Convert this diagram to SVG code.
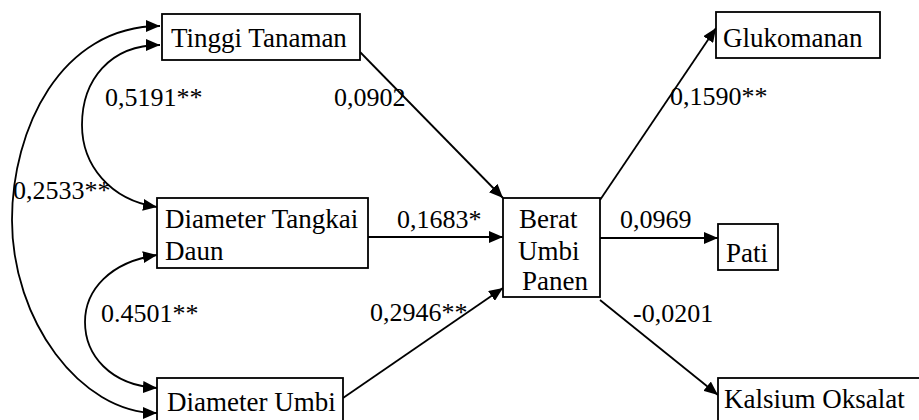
<svg xmlns="http://www.w3.org/2000/svg" width="919" height="420" viewBox="0 0 919 420">
<style>
.box{fill:#fff;stroke:#000;stroke-width:1.8}
.t{font-family:"Liberation Serif",serif;font-size:26px;fill:#000}
.n{font-family:"Liberation Serif",serif;font-size:27px;fill:#000}
.c{fill:none;stroke:#000;stroke-width:1.8}
</style>
<defs>
<marker id="ah" viewBox="0 0 14 12" refX="14" refY="6" markerWidth="14" markerHeight="12" markerUnits="userSpaceOnUse" orient="auto-start-reverse"><path d="M0,0 L14,6 L0,12 z" fill="#000"/></marker>
</defs>
<rect width="919" height="420" fill="#fff"/>
<g id="connectors">
<path class="c" d="M160,26 C60,26 12,130 12,220 C12,320 80,413 157,413" marker-start="url(#ah)" marker-end="url(#ah)"/>
<path class="c" d="M160,45 C110,45 82,80 82,125 C82,165 110,200 157,207" marker-start="url(#ah)" marker-end="url(#ah)"/>
<path class="c" d="M157,255 C110,262 85,290 85,322 C85,355 110,385 157,388" marker-start="url(#ah)" marker-end="url(#ah)"/>
<line class="c" x1="360" y1="52" x2="503" y2="198" marker-end="url(#ah)"/>
<line class="c" x1="368" y1="237" x2="503" y2="237" marker-end="url(#ah)"/>
<line class="c" x1="343" y1="398" x2="503" y2="288" marker-end="url(#ah)"/>
<line class="c" x1="600" y1="200" x2="716" y2="28" marker-end="url(#ah)"/>
<line class="c" x1="600" y1="238" x2="718" y2="238" marker-end="url(#ah)"/>
<line class="c" x1="600" y1="300" x2="718" y2="395" marker-end="url(#ah)"/>
</g>
<g id="labels">
<text class="t" x="105" y="106">0,5191**</text>
<text class="t" x="334" y="106">0,0902</text>
<text class="t" x="13" y="199">0,2533**</text>
<text class="t" x="397" y="228">0,1683*</text>
<text class="t" x="101" y="322">0.4501**</text>
<text class="t" x="370" y="321">0,2946**</text>
<text class="t" x="670" y="105">0,1590**</text>
<text class="t" x="620" y="228">0,0969</text>
<text class="t" x="633" y="322">-0,0201</text>
</g>
<g id="tinggi"><rect class="box" x="162" y="14" width="198" height="46"/><text class="n" x="171" y="47">Tinggi Tanaman</text></g>
<g id="tangkai"><rect class="box" x="157" y="198" width="211" height="70"/><text class="n" x="165" y="228">Diameter Tangkai</text><text class="n" x="165" y="260">Daun</text></g>
<g id="umbi"><rect class="box" x="157" y="378" width="186" height="50"/><text class="n" x="167" y="411">Diameter Umbi</text></g>
<g id="berat"><rect class="box" x="503" y="198" width="97" height="99"/><text class="n" x="519" y="228">Berat</text><text class="n" x="518" y="260">Umbi</text><text class="n" x="522" y="290">Panen</text></g>
<g id="gluko"><rect class="box" x="716" y="12" width="164" height="46"/><text class="n" x="723" y="47">Glukomanan</text></g>
<g id="pati"><rect class="box" x="718" y="224" width="60" height="46"/><text class="n" x="726" y="262">Pati</text></g>
<g id="kalsium"><rect class="box" x="718" y="378" width="210" height="50"/><text class="n" x="724" y="408">Kalsium Oksalat</text></g>
</svg>
